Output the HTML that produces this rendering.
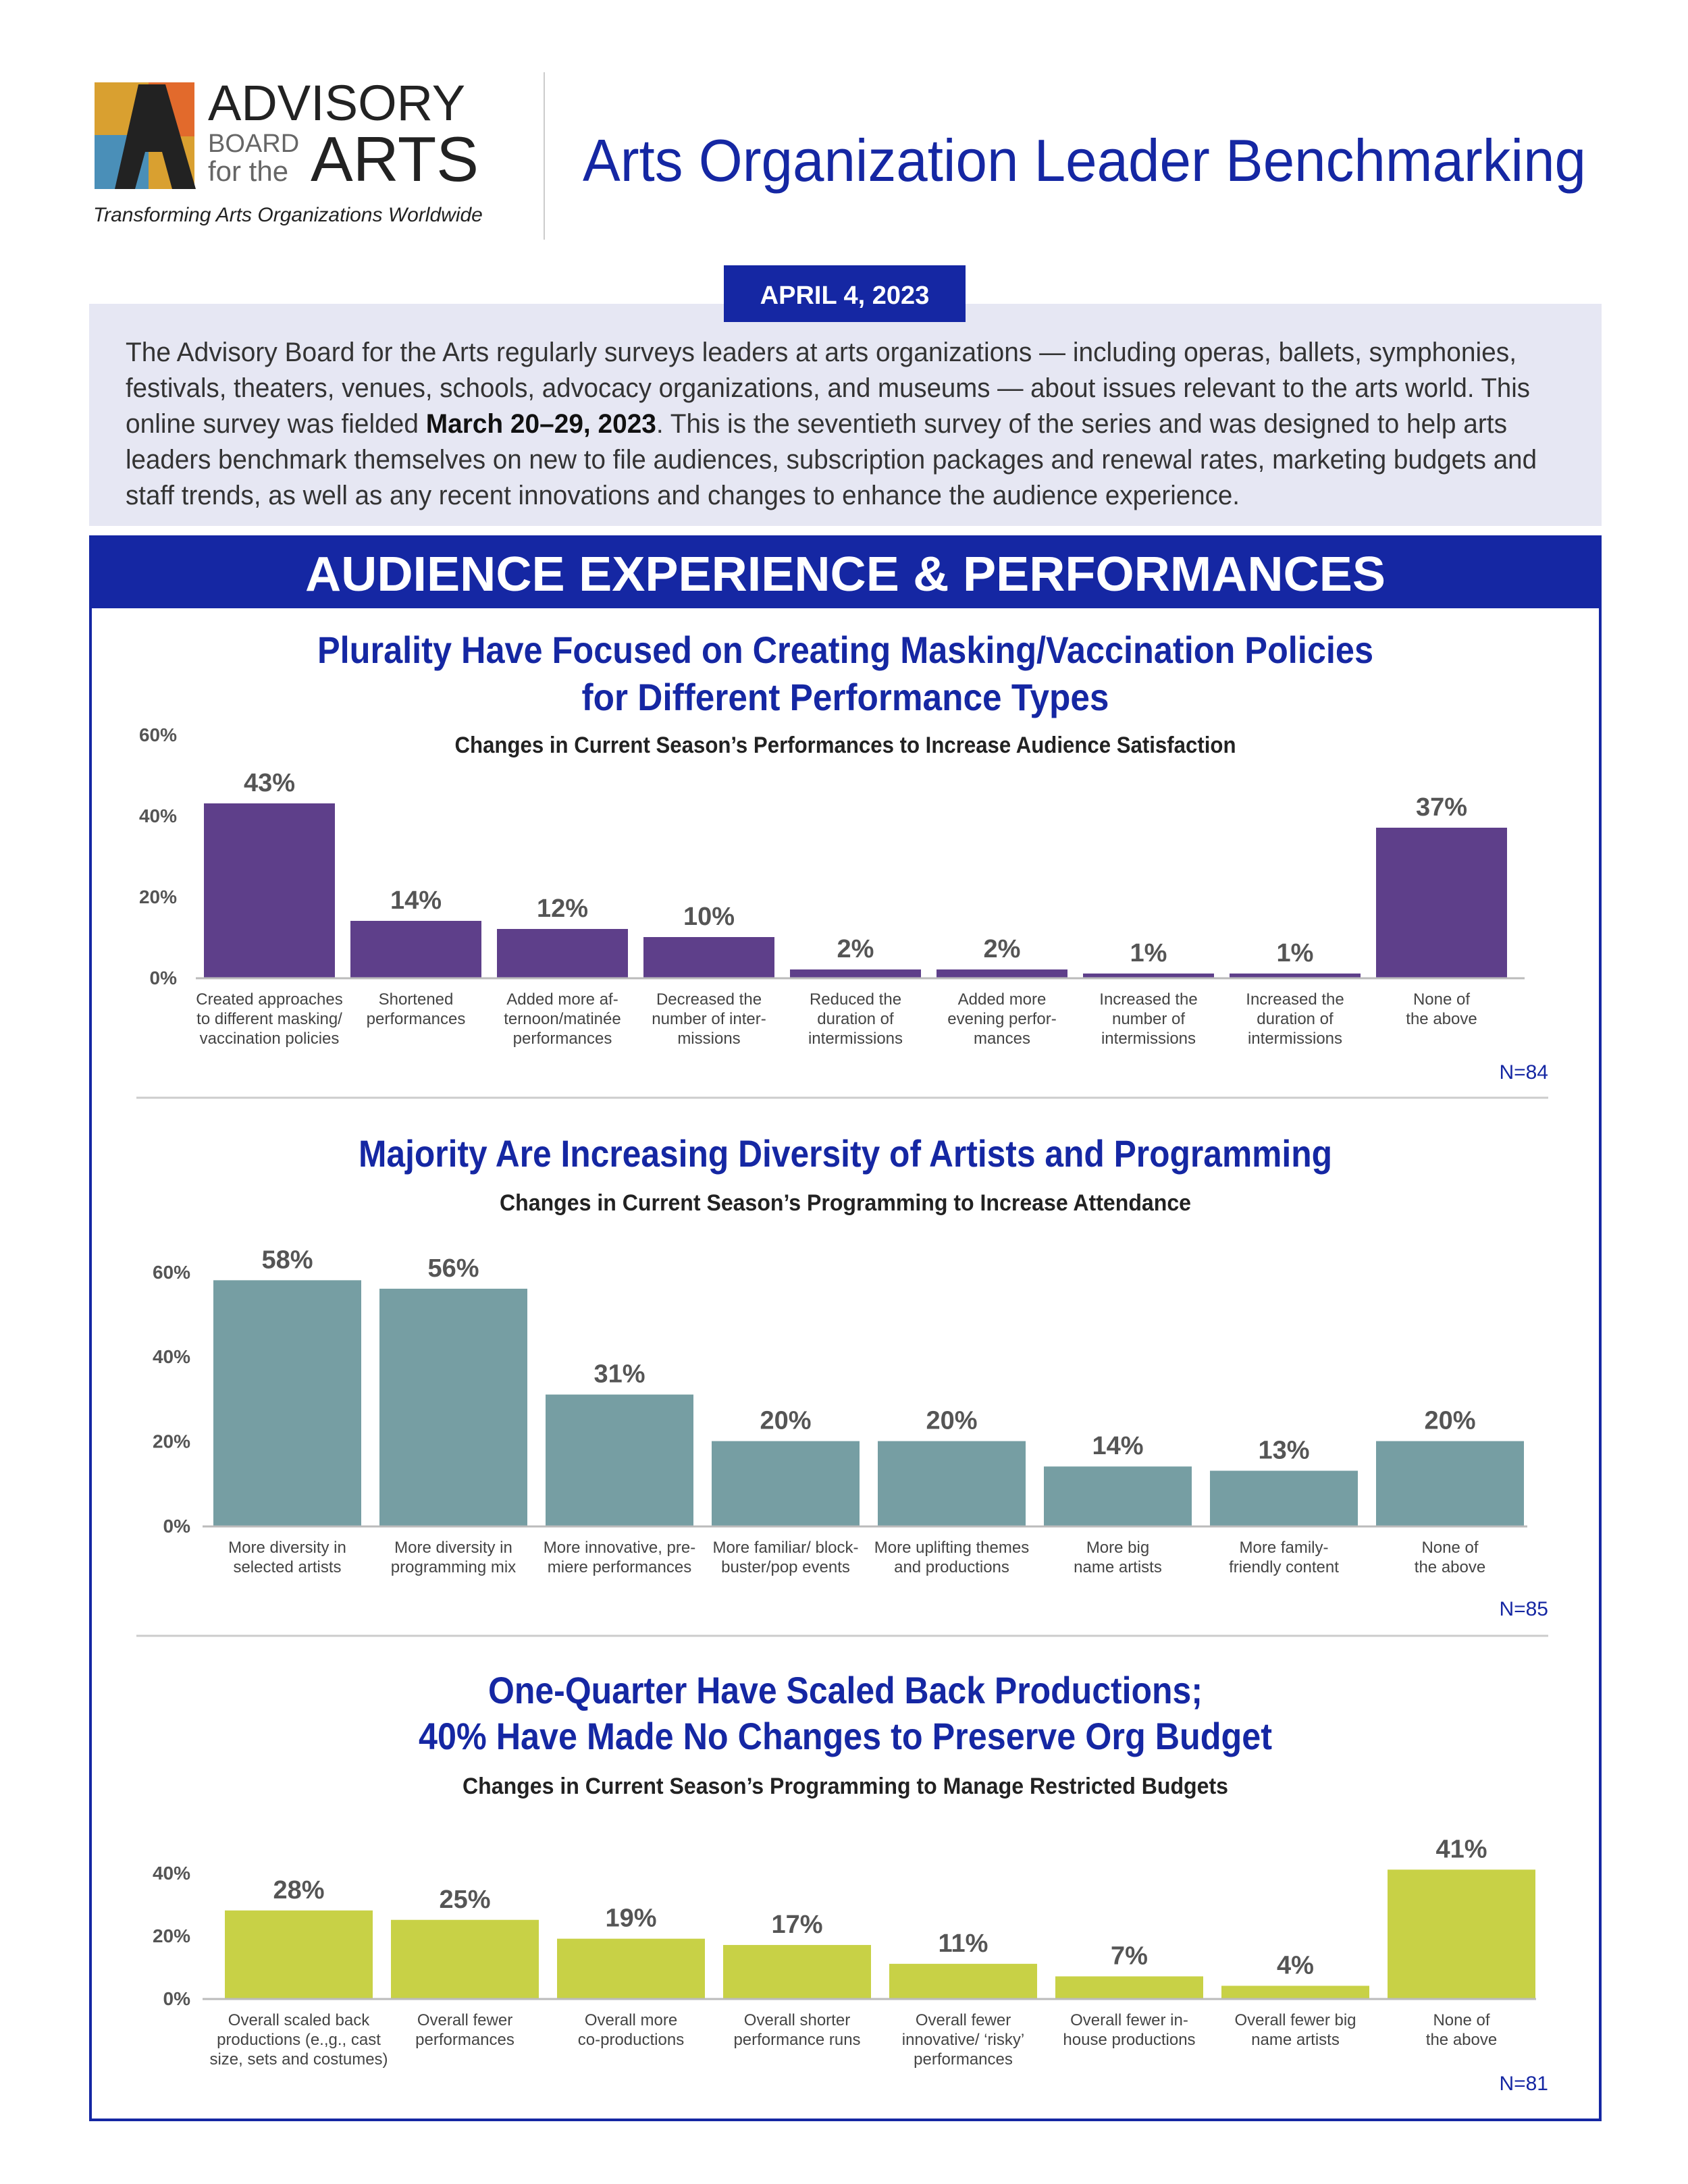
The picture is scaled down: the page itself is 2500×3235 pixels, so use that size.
<!DOCTYPE html>
<html><head><meta charset="utf-8"><style>
html,body{margin:0;padding:0;background:#fff;}
svg{display:block;}
text{font-family:"Liberation Sans",sans-serif;}
</style></head><body>
<svg id="page" width="2500" height="3235" viewBox="0 0 2500 3235" xmlns="http://www.w3.org/2000/svg">
<g>
  <rect x="140" y="122" width="148" height="158" fill="#d9a030"/>
  <rect x="140" y="200" width="80" height="80" fill="#4a8fb8"/>
  <rect x="220" y="122" width="68" height="80" fill="#e26a2c"/>
  <polygon points="205,125 245,125 290,280 255,280 240,225 215,225 200,280 170,280" fill="#222"/>
  <text x="308" y="178" font-family="Liberation Serif" font-size="74" fill="#222">ADVISORY</text>
  <text x="308" y="225" font-family="Liberation Serif" font-size="38" fill="#666">BOARD</text>
  <text x="308" y="268" font-family="Liberation Serif" font-size="42" fill="#666">for the</text>
  <text x="460" y="268" font-family="Liberation Serif" font-size="94" fill="#222">ARTS</text>
  <text x="138" y="328" font-size="30" font-style="italic" fill="#222">Transforming Arts Organizations Worldwide</text>
</g>
<line x1="806" y1="107" x2="806" y2="355" stroke="#ccc" stroke-width="2"/>
<text x="1606" y="268" text-anchor="middle" font-size="88" fill="#1527a3" textLength="1486" lengthAdjust="spacingAndGlyphs">Arts Organization Leader Benchmarking</text>
<rect x="132" y="450" width="2240" height="329" fill="#e6e7f3"/>
<rect x="1072" y="393" width="358" height="84" fill="#1527a3"/>
<text x="1251" y="450" text-anchor="middle" font-size="38" font-weight="bold" fill="#fff">APRIL 4, 2023</text>
<g font-size="40" fill="#333">
  <text x="186" y="535" textLength="2060" lengthAdjust="spacingAndGlyphs">The Advisory Board for the Arts regularly surveys leaders at arts organizations — including operas, ballets, symphonies,</text>
  <text x="186" y="588" textLength="2080" lengthAdjust="spacingAndGlyphs">festivals, theaters, venues, schools, advocacy organizations, and museums — about issues relevant to the arts world. This</text>
  <text x="186" y="641" textLength="2046" lengthAdjust="spacingAndGlyphs">online survey was fielded <tspan font-weight="bold" fill="#111">March 20–29, 2023</tspan>. This is the seventieth survey of the series and was designed to help arts</text>
  <text x="186" y="694" textLength="2090" lengthAdjust="spacingAndGlyphs">leaders benchmark themselves on new to file audiences, subscription packages and renewal rates, marketing budgets and</text>
  <text x="186" y="747" textLength="1650" lengthAdjust="spacingAndGlyphs">staff trends, as well as any recent innovations and changes to enhance the audience experience.</text>
</g>
<rect x="134" y="795" width="2236" height="2345" fill="none" stroke="#1527a3" stroke-width="4"/>
<rect x="132" y="793" width="2240" height="108" fill="#1527a3"/>
<text x="1252" y="875" text-anchor="middle" font-size="72" font-weight="bold" fill="#fff" textLength="1600" lengthAdjust="spacingAndGlyphs">AUDIENCE EXPERIENCE &amp; PERFORMANCES</text>
<line x1="202" y1="1626" x2="2293" y2="1626" stroke="#ccc" stroke-width="3"/>
<line x1="202" y1="2423" x2="2293" y2="2423" stroke="#ccc" stroke-width="3"/>
<g id="charts"></g>
</svg>
<script>
const c1Categories=[["Created approaches","to different masking/","vaccination policies"],["Shortened","performances"],["Added more af-","ternoon/matinée","performances"],["Decreased the","number of inter-","missions"],["Reduced the","duration of","intermissions"],["Added more","evening perfor-","mances"],["Increased the","number of","intermissions"],["Increased the","duration of","intermissions"],["None of","the above"]];
const c1Values=[43,14,12,10,2,2,1,1,37];
const c1Ticks=[0,20,40,60];
const c2Categories=[["More diversity in","selected artists"],["More diversity in","programming mix"],["More innovative, pre-","miere performances"],["More familiar/ block-","buster/pop events"],["More uplifting themes","and productions"],["More big","name artists"],["More family-","friendly content"],["None of","the above"]];
const c2Values=[58,56,31,20,20,14,13,20];
const c2Ticks=[0,20,40,60];
const c3Categories=[["Overall scaled back","productions (e.,g., cast","size, sets and costumes)"],["Overall fewer","performances"],["Overall more","co-productions"],["Overall shorter","performance runs"],["Overall fewer","innovative/ ‘risky’","performances"],["Overall fewer in-","house productions"],["Overall fewer big","name artists"],["None of","the above"]];
const c3Values=[28,25,19,17,11,7,4,41];
const c3Ticks=[0,20,40];

const NS="http://www.w3.org/2000/svg";
const root=document.getElementById('charts');
function mk(tag,attrs,parent,txt){const e=document.createElementNS(NS,tag);for(const k in attrs)e.setAttribute(k,attrs[k]);if(txt!==undefined)e.textContent=txt;parent.appendChild(e);return e;}

function drawChart(o,cats,vals,ticks){
  const g=mk('g',{},root);
  
  
  o.titles.forEach((t,i)=>{const e=mk('text',{x:1252,y:o.titleY[i],'text-anchor':'middle','font-size':56,'font-weight':'bold',fill:'#1527a3',textLength:o.titleW[i],lengthAdjust:'spacingAndGlyphs'},g,t);
    
    });
  const st=mk('text',{x:1252,y:o.subY,'text-anchor':'middle','font-size':34,'font-weight':'bold',fill:'#222',textLength:o.subW,lengthAdjust:'spacingAndGlyphs'},g,o.sub);
  
  
  const y=v=>o.base-v*o.ppu;
  const x=i=>o.x0+i*o.step;
  ticks.forEach(t=>{const e=mk('text',{x:o.tickX,y:y(t)+10,'text-anchor':'end','font-size':28,'font-weight':'bold',fill:'#555'},g,t+'%');
    
    });
  vals.forEach((v,i)=>{
    const r=mk('rect',{x:x(i),y:y(v),width:o.bw,height:v*o.ppu,fill:o.color},g);
    
    
    const l=mk('text',{x:x(i)+o.bw/2,y:y(v)-18,'text-anchor':'middle','font-size':38,'font-weight':'bold',fill:'#555'},g,v+'%');
    
    
    cats[i].forEach((s,j)=>{const c=mk('text',{x:x(i)+o.bw/2,y:o.base+40+j*29,'text-anchor':'middle','font-size':24,fill:'#444'},g,s);
      
      });
  });
  const ax=mk('line',{x1:o.axL,x2:o.axR,y1:o.base+1,y2:o.base+1,stroke:'#bbb','stroke-width':3},g);
  
  
  const n=mk('text',{x:2293,y:o.nY,'text-anchor':'end','font-size':30,fill:'#1527a3'},g,o.n);
  
  
}
drawChart({name:'chart-performance-changes',titles:['Plurality Have Focused on Creating Masking/Vaccination Policies','for Different Performance Types'],titleW:[1564,781],titleY:[982,1052],sub:'Changes in Current Season’s Performances to Increase Audience Satisfaction',subW:1157,subY:1115,base:1448,ppu:6,tickX:262,x0:302,step:217,bw:194,color:'#5e3f8a',axL:290,axR:2258,n:'N=84',nY:1598},c1Categories,c1Values,c1Ticks);
drawChart({name:'chart-programming-changes',titles:['Majority Are Increasing Diversity of Artists and Programming'],titleW:[1442],titleY:[1728],sub:'Changes in Current Season’s Programming to Increase Attendance',subW:1024,subY:1793,base:2260,ppu:6.27,tickX:282,x0:316,step:246,bw:219,color:'#769ea3',axL:300,axR:2262,n:'N=85',nY:2393},c2Categories,c2Values,c2Ticks);
drawChart({name:'chart-budget-changes',titles:['One-Quarter Have Scaled Back Productions;','40% Have Made No Changes to Preserve Org Budget'],titleW:[1058,1264],titleY:[2523,2591],sub:'Changes in Current Season’s Programming to Manage Restricted Budgets',subW:1134,subY:2657,base:2960,ppu:4.65,tickX:282,x0:333,step:246,bw:219,color:'#c8d146',axL:300,axR:2275,n:'N=81',nY:3096},c3Categories,c3Values,c3Ticks);
</script>
</body></html>
